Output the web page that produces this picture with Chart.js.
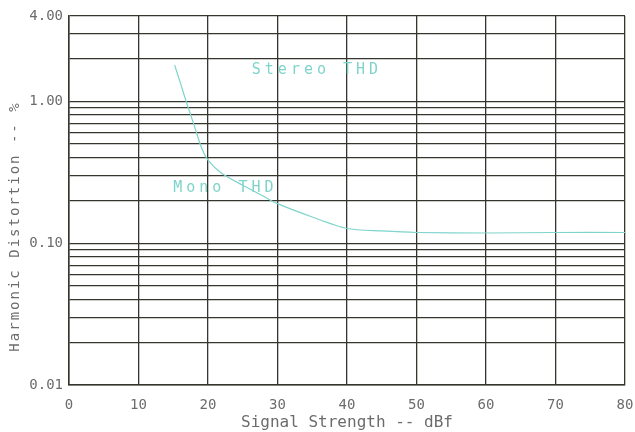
<!DOCTYPE html>
<html>
<head>
<meta charset="utf-8">
<script src="https://cdn.jsdelivr.net/npm/chart.js@4/dist/chart.umd.min.js"></script>
<style>
  html, body { margin: 0; padding: 0; background: #fff; }
  #wrap { width: 635px; height: 432px; }
</style>
</head>
<body>
<div id="wrap"><canvas id="thdChart"></canvas></div>
<script>
// Signal strength (dBf) and THD (%)
const signalDbf = [15.2, 16, 17, 18, 19, 20, 22, 25, 28, 30, 35, 40, 45, 50, 60, 70, 80];
const thdPct = [1.8, 1.36, 0.95, 0.68, 0.48, 0.385, 0.31, 0.256, 0.214, 0.19, 0.153, 0.127, 0.122, 0.119, 0.118, 0.119, 0.119];

// log grid: every 1..9 multiple plus the top edge
const yGridValues = [0.01, 0.02, 0.03, 0.04, 0.05, 0.06, 0.07, 0.08, 0.09,
  0.1, 0.2, 0.3, 0.4, 0.5, 0.6, 0.7, 0.8, 0.9, 1, 2, 3, 4];
const yLabelValues = [0.01, 0.1, 1, 4];

// curve annotations, in data units
const curveLabels = [
  { text: "Stereo THD", x: 26.3, y: 1.66 },
  { text: "Mono THD", x: 15.0, y: 0.245 }
];

const gridColor = "#34352c";
const textColor = "#6c6c6c";
const curveColor = "#7fd4cb";
const monoFont = "'DejaVu Sans Mono', 'Liberation Mono', monospace";

const annotate = {
  id: "annotate",
  afterDatasetsDraw(chart) {
    const { ctx, scales, chartArea } = chart;
    ctx.save();
    // curve labels
    ctx.fillStyle = curveColor;
    ctx.font = "15px " + monoFont;
    ctx.letterSpacing = "4px";
    ctx.textBaseline = "middle";
    ctx.textAlign = "left";
    curveLabels.forEach(l => {
      ctx.fillText(l.text, scales.x.getPixelForValue(l.x), scales.y.getPixelForValue(l.y));
    });
    // y axis title, rotated
    ctx.fillStyle = textColor;
    ctx.font = "14px " + monoFont;
    ctx.letterSpacing = "2px";
    ctx.textAlign = "center";
    ctx.translate(15, (chartArea.top + chartArea.bottom) / 2 + 26);
    ctx.rotate(-Math.PI / 2);
    ctx.fillText("Harmonic Distortion -- %", 0, 0);
    ctx.restore();
  }
};

const ctx = document.getElementById("thdChart").getContext("2d");
new Chart(ctx, {
  type: "line",
  data: {
    datasets: [{
      label: "THD",
      data: signalDbf.map((x, i) => ({ x: x, y: thdPct[i] })),
      borderColor: curveColor,
      borderWidth: 1.2,
      pointRadius: 0,
      tension: 0.25,
      fill: false
    }]
  },
  options: {
    responsive: true,
    maintainAspectRatio: false,
    animation: false,
    layout: { padding: { top: 16, right: 10, left: 0, bottom: 0 } },
    plugins: { legend: { display: false }, tooltip: { enabled: false } },
    scales: {
      x: {
        type: "linear",
        min: 0,
        max: 80,
        afterFit(scale) {
          scale.height = 47;
          scale.paddingLeft = 0;
          scale.paddingRight = 0;
        },
        ticks: {
          stepSize: 10,
          color: textColor,
          font: { family: monoFont, size: 14 },
          padding: 12,
          maxRotation: 0
        },
        grid: { color: gridColor, lineWidth: 1.3, drawTicks: false },
        border: { color: gridColor, width: 1.5 },
        title: {
          display: true,
          text: "Signal Strength -- dBf",
          color: textColor,
          font: { family: monoFont, size: 16 },
          padding: { top: 0, bottom: 0 }
        }
      },
      y: {
        type: "logarithmic",
        min: 0.01,
        max: 4,
        afterFit(scale) { scale.width = 69; },
        afterBuildTicks(scale) {
          scale.ticks = yGridValues.map(v => ({ value: v }));
        },
        ticks: {
          color: textColor,
          font: { family: monoFont, size: 14 },
          padding: 6,
          autoSkip: false,
          callback: v => yLabelValues.includes(v) ? v.toFixed(2) : ""
        },
        grid: { color: gridColor, lineWidth: 1.3, drawTicks: false },
        border: { color: gridColor, width: 1.5 }
      }
    }
  },
  plugins: [annotate]
});
</script>
</body>
</html>
